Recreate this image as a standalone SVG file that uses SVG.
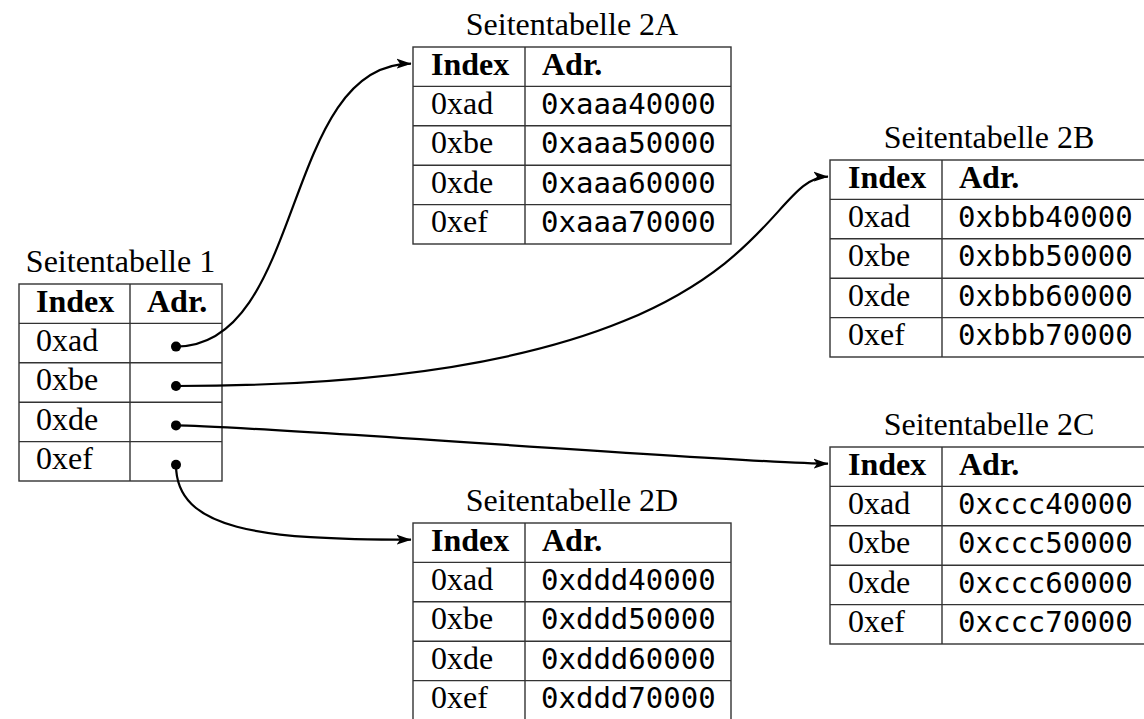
<svg xmlns="http://www.w3.org/2000/svg" width="1144" height="719" viewBox="0 0 1144 719">
<defs>
<style>
.bg{fill:#fff}
.tb{fill:none;stroke:#333;stroke-width:1.4}
.ln{stroke:#333;stroke-width:1.4}
.ttl{font-family:"Liberation Serif","Times New Roman",serif;font-size:32px;fill:#000;text-anchor:middle}
.hd{font-family:"Liberation Serif","Times New Roman",serif;font-size:32px;font-weight:bold;fill:#000}
.ix{font-family:"Liberation Serif","Times New Roman",serif;font-size:32px;fill:#000}
.mo{font-family:"DejaVu Sans Mono","Liberation Mono",monospace;font-size:29px;fill:#000}
.con{fill:none;stroke:#000;stroke-width:2.2}
.dot{fill:#000}
</style>
<marker id="arr" markerUnits="userSpaceOnUse" markerWidth="15" markerHeight="11" viewBox="0 0 15 11" refX="14.5" refY="5.5" orient="auto">
<path d="M0,0.5 L15,5.5 L0,10.5 L3.5,5.5 z" fill="#000"/>
</marker>
</defs>
<rect class="bg" x="0" y="0" width="1144" height="719"/>

<g id="table1">
<text class="ttl" x="120.5" y="272">Seitentabelle 1</text>
<rect class="tb" x="19" y="284" width="203" height="197"/>
<line class="ln" x1="130" y1="284" x2="130" y2="481"/>
<line class="ln" x1="19" y1="323.4" x2="222" y2="323.4"/>
<line class="ln" x1="19" y1="362.8" x2="222" y2="362.8"/>
<line class="ln" x1="19" y1="402.2" x2="222" y2="402.2"/>
<line class="ln" x1="19" y1="441.6" x2="222" y2="441.6"/>
<text class="hd" x="36" y="311.5">Index</text>
<text class="hd" x="147" y="311.5">Adr.</text>
<text class="ix" x="36" y="350.9">0xad</text>
<text class="ix" x="36" y="390.3">0xbe</text>
<text class="ix" x="36" y="429.7">0xde</text>
<text class="ix" x="36" y="469.1">0xef</text>
<circle class="dot" cx="176" cy="346.6" r="5"/>
<circle class="dot" cx="176" cy="386" r="5"/>
<circle class="dot" cx="176" cy="425.4" r="5"/>
<circle class="dot" cx="176" cy="464.8" r="5"/>
</g>

<g id="table2A">
<text class="ttl" x="572" y="35">Seitentabelle 2A</text>
<rect class="tb" x="413" y="47" width="318" height="197"/>
<line class="ln" x1="525" y1="47" x2="525" y2="244"/>
<line class="ln" x1="413" y1="86.4" x2="731" y2="86.4"/>
<line class="ln" x1="413" y1="125.8" x2="731" y2="125.8"/>
<line class="ln" x1="413" y1="165.2" x2="731" y2="165.2"/>
<line class="ln" x1="413" y1="204.6" x2="731" y2="204.6"/>
<text class="hd" x="431" y="74.5">Index</text>
<text class="hd" x="542" y="74.5">Adr.</text>
<text class="ix" x="431" y="113.9">0xad</text>
<text class="ix" x="431" y="153.3">0xbe</text>
<text class="ix" x="431" y="192.7">0xde</text>
<text class="ix" x="431" y="232.1">0xef</text>
<text class="mo" x="541" y="113.9">0xaaa40000</text>
<text class="mo" x="541" y="153.3">0xaaa50000</text>
<text class="mo" x="541" y="192.7">0xaaa60000</text>
<text class="mo" x="541" y="232.1">0xaaa70000</text>
</g>

<g id="table2B">
<text class="ttl" x="989" y="148">Seitentabelle 2B</text>
<rect class="tb" x="830" y="160" width="318" height="197"/>
<line class="ln" x1="942" y1="160" x2="942" y2="357"/>
<line class="ln" x1="830" y1="199.4" x2="1148" y2="199.4"/>
<line class="ln" x1="830" y1="238.8" x2="1148" y2="238.8"/>
<line class="ln" x1="830" y1="278.2" x2="1148" y2="278.2"/>
<line class="ln" x1="830" y1="317.6" x2="1148" y2="317.6"/>
<text class="hd" x="848" y="187.5">Index</text>
<text class="hd" x="959" y="187.5">Adr.</text>
<text class="ix" x="848" y="226.9">0xad</text>
<text class="ix" x="848" y="266.3">0xbe</text>
<text class="ix" x="848" y="305.7">0xde</text>
<text class="ix" x="848" y="345.1">0xef</text>
<text class="mo" x="958" y="226.9">0xbbb40000</text>
<text class="mo" x="958" y="266.3">0xbbb50000</text>
<text class="mo" x="958" y="305.7">0xbbb60000</text>
<text class="mo" x="958" y="345.1">0xbbb70000</text>
</g>

<g id="table2C">
<text class="ttl" x="989" y="435">Seitentabelle 2C</text>
<rect class="tb" x="830" y="447" width="318" height="197"/>
<line class="ln" x1="942" y1="447" x2="942" y2="644"/>
<line class="ln" x1="830" y1="486.4" x2="1148" y2="486.4"/>
<line class="ln" x1="830" y1="525.8" x2="1148" y2="525.8"/>
<line class="ln" x1="830" y1="565.2" x2="1148" y2="565.2"/>
<line class="ln" x1="830" y1="604.6" x2="1148" y2="604.6"/>
<text class="hd" x="848" y="474.5">Index</text>
<text class="hd" x="959" y="474.5">Adr.</text>
<text class="ix" x="848" y="513.9">0xad</text>
<text class="ix" x="848" y="553.3">0xbe</text>
<text class="ix" x="848" y="592.7">0xde</text>
<text class="ix" x="848" y="632.1">0xef</text>
<text class="mo" x="958" y="513.9">0xccc40000</text>
<text class="mo" x="958" y="553.3">0xccc50000</text>
<text class="mo" x="958" y="592.7">0xccc60000</text>
<text class="mo" x="958" y="632.1">0xccc70000</text>
</g>

<g id="table2D">
<text class="ttl" x="572" y="511">Seitentabelle 2D</text>
<rect class="tb" x="413" y="523" width="318" height="197"/>
<line class="ln" x1="525" y1="523" x2="525" y2="720"/>
<line class="ln" x1="413" y1="562.4" x2="731" y2="562.4"/>
<line class="ln" x1="413" y1="601.8" x2="731" y2="601.8"/>
<line class="ln" x1="413" y1="641.2" x2="731" y2="641.2"/>
<line class="ln" x1="413" y1="680.6" x2="731" y2="680.6"/>
<text class="hd" x="431" y="550.5">Index</text>
<text class="hd" x="542" y="550.5">Adr.</text>
<text class="ix" x="431" y="589.9">0xad</text>
<text class="ix" x="431" y="629.3">0xbe</text>
<text class="ix" x="431" y="668.7">0xde</text>
<text class="ix" x="431" y="708.1">0xef</text>
<text class="mo" x="541" y="589.9">0xddd40000</text>
<text class="mo" x="541" y="629.3">0xddd50000</text>
<text class="mo" x="541" y="668.7">0xddd60000</text>
<text class="mo" x="541" y="708.1">0xddd70000</text>
</g>

<g id="connectors">
<path class="con" marker-end="url(#arr)" d="M176,346.6 C306,346.6 281,63.7 411,63.7"/>
<path class="con" marker-end="url(#arr)" d="M176,386 C776,386 756,176.7 828,176.7"/>
<path class="con" marker-end="url(#arr)" d="M176,425.4 C250,425.4 750,463.7 828,463.7"/>
<path class="con" marker-end="url(#arr)" d="M176,464.8 C176,530 260,539.7 411,539.7"/>
</g>
</svg>
